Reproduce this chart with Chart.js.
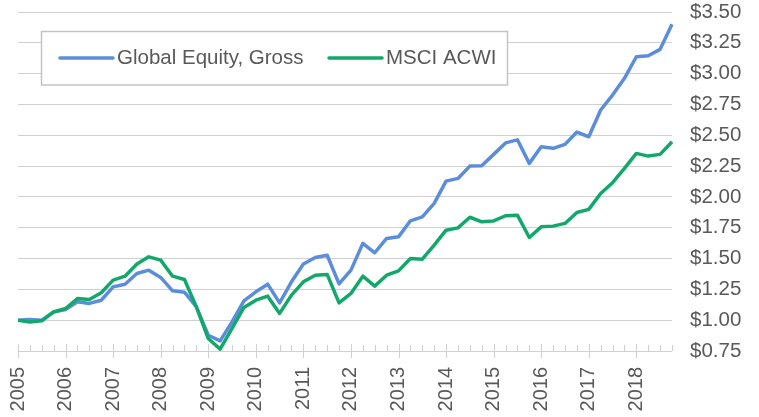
<!DOCTYPE html>
<html><head><meta charset="utf-8">
<script src="https://cdn.jsdelivr.net/npm/chart.js@4/dist/chart.umd.min.js"></script>
<style>html,body{margin:0;padding:0;background:#fff}#wrap{width:759px;height:417px;position:relative}</style>
</head><body><div id="wrap"><canvas id="c"></canvas></div>
<script>
// ---- data ----
const years = ['2005','2006','2007','2008','2009','2010','2011','2012','2013','2014','2015','2016','2017','2018'];
const quarterNames = ['Q1','Q2','Q3','Q4'];
const categories = [];
years.forEach(y => quarterNames.forEach(q => categories.push(y + ' ' + q)));

const seriesNames = ['Global Equity, Gross', 'MSCI ACWI'];
const globalEquityGross = [
  1.00, 1.005, 1.00, 1.067, 1.087, 1.149, 1.136, 1.162,
  1.27, 1.292, 1.379, 1.406, 1.347, 1.238, 1.227, 1.108,
  0.878, 0.832, 0.986, 1.157, 1.23, 1.292, 1.14, 1.311,
  1.455, 1.509, 1.527, 1.295, 1.406, 1.623, 1.547, 1.663,
  1.676, 1.806, 1.838, 1.947, 2.128, 2.15, 2.25, 2.252,
  2.345, 2.438, 2.463, 2.272, 2.407, 2.394, 2.426, 2.526,
  2.488, 2.705, 2.826, 2.962, 3.137, 3.145, 3.197, 3.40
];
const msciAcwi = [
  1.00, 0.985, 0.995, 1.067, 1.095, 1.176, 1.168, 1.222,
  1.325, 1.357, 1.455, 1.514, 1.487, 1.357, 1.33, 1.108,
  0.851, 0.765, 0.933, 1.103, 1.162, 1.195, 1.055, 1.203,
  1.311, 1.365, 1.371, 1.14, 1.217, 1.357, 1.276, 1.365,
  1.40, 1.50, 1.495, 1.609, 1.73, 1.749, 1.835, 1.798,
  1.805, 1.847, 1.852, 1.671, 1.757, 1.763, 1.785, 1.874,
  1.899, 2.028, 2.115, 2.231, 2.353, 2.331, 2.345, 2.447
];
const yMin = 0.75, yMax = 3.50, yStep = 0.25;

// ---- styles ----
const BLUE = '#5B8DDB', GREEN = '#13A86B', TEXT = '#595959', GRID = '#d0d0d0';
const FONT = "'Liberation Sans', Arial, sans-serif";

const tickMarks = {
  id: 'tickMarks',
  beforeDatasetsDraw(chart) {
    const xs = chart.scales.x, ctx = chart.ctx;
    const y0 = chart.chartArea.bottom;
    ctx.save();
    ctx.strokeStyle = GRID; ctx.lineWidth = 1;
    for (let i = 0; i < categories.length; i++) {
      const px = Math.round(xs.getPixelForValue(i)) + 0.5;
      ctx.beginPath();
      if (i % 4 === 0) { ctx.moveTo(px, y0 - 7); ctx.lineTo(px, y0 + 7); }
      else { ctx.moveTo(px, y0 - 6); ctx.lineTo(px, y0); }
      ctx.stroke();
    }
    ctx.restore();
  }
};

const boxLegend = {
  id: 'boxLegend',
  afterDatasetsDraw(chart) {
    const ctx = chart.ctx;
    const bx = 41.5, by = 31.5, bw = 466, bh = 53.5, cy = 58;
    ctx.save();
    ctx.fillStyle = '#fff';
    ctx.fillRect(bx, by, bw, bh);
    ctx.strokeStyle = '#c4c4c4'; ctx.lineWidth = 1.5;
    ctx.strokeRect(bx, by, bw, bh);
    const items = [[60, 113, 117], [329, 382, 386]];
    ctx.font = '20.5px ' + FONT;
    ctx.textBaseline = 'middle';
    ctx.textAlign = 'left';
    chart.data.datasets.forEach((ds, k) => {
      const it = items[k];
      ctx.strokeStyle = ds.borderColor; ctx.lineWidth = 3.5; ctx.lineCap = 'round';
      ctx.beginPath(); ctx.moveTo(it[0], cy); ctx.lineTo(it[1], cy); ctx.stroke();
      ctx.fillStyle = TEXT;
      ctx.fillText(ds.label, it[2], cy);
    });
    ctx.restore();
  }
};

new Chart(document.getElementById('c'), {
  type: 'line',
  data: {
    labels: categories,
    datasets: [
      { label: seriesNames[0], data: globalEquityGross, borderColor: BLUE, backgroundColor: BLUE,
        borderWidth: 3.5, pointRadius: 0, tension: 0, borderJoinStyle: 'round', order: 1 },
      { label: seriesNames[1], data: msciAcwi, borderColor: GREEN, backgroundColor: GREEN,
        borderWidth: 3.5, pointRadius: 0, tension: 0, borderJoinStyle: 'round', order: 0 }
    ]
  },
  options: {
    responsive: true, maintainAspectRatio: false, animation: false, devicePixelRatio: 1,
    layout: { padding: { left: 18, top: 12, right: 0, bottom: 0 } },
    plugins: { legend: { display: false }, tooltip: { enabled: false } },
    scales: {
      x: {
        type: 'category', offset: false,
        grid: { display: false },
        border: { display: false },
        ticks: {
          autoSkip: false, minRotation: 90, maxRotation: 90, padding: 8,
          color: TEXT, font: { family: FONT, size: 20 },
          callback: (v, i) => (i % 4 === 0 ? years[i / 4] : '')
        },
        afterFit: s => { s.height = 66; s.paddingTop = 0; s.paddingBottom = 0; s.paddingLeft = 0; s.paddingRight = 0; }
      },
      y: {
        position: 'right', min: yMin, max: yMax,
        grid: { color: GRID, lineWidth: 1, drawTicks: false },
        border: { display: false },
        ticks: {
          stepSize: yStep, padding: 18, color: TEXT, font: { family: FONT, size: 20.5 },
          callback: v => '$' + Number(v).toFixed(2)
        },
        afterFit: s => { s.width = 87; s.paddingTop = 0; s.paddingBottom = 0; s.paddingLeft = 0; s.paddingRight = 0; }
      }
    }
  },
  plugins: [tickMarks, boxLegend]
});
</script></body></html>
